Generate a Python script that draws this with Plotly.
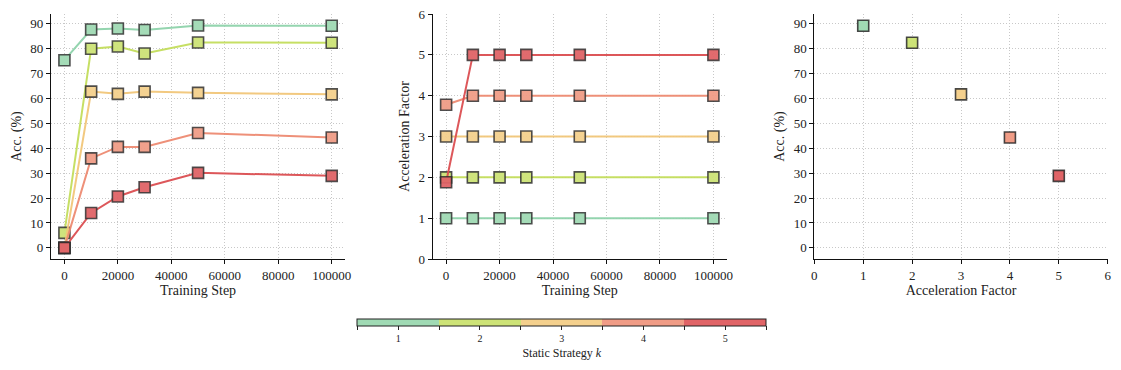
import plotly.graph_objects as go

steps = [0, 10000, 20000, 30000, 50000, 100000]
strategies = [1, 2, 3, 4, 5]

acc = {
    1: [75.3, 87.6, 88.0, 87.4, 89.2, 89.1],
    2: [6.0, 79.9, 80.8, 78.0, 82.4, 82.3],
    3: [0.0, 62.7, 61.8, 62.7, 62.2, 61.6],
    4: [0.0, 35.9, 40.5, 40.5, 46.1, 44.3],
    5: [0.0, 14.0, 20.6, 24.3, 30.1, 28.9],
}
accel = {
    1: [1, 1, 1, 1, 1, 1],
    2: [2, 2, 2, 2, 2, 2],
    3: [3, 3, 3, 3, 3, 3],
    4: [3.78, 4, 4, 4, 4, 4],
    5: [1.88, 5, 5, 5, 5, 5],
}
final_accel = [1, 2, 3, 4, 5]
final_acc = [89.1, 82.3, 61.6, 44.3, 28.9]

colors = ["#a0dab4", "#cde377", "#f4d08d", "#f09c86", "#e06467"]
line_colors = ["#8fd3ab", "#c4de5c", "#f2c77a", "#ee8b72", "#dc4f52"]

FONT = "Liberation Serif"
edge = dict(color="rgba(40,40,40,0.85)", width=1.6)

fig = go.Figure()

for i, k in enumerate(strategies):
    fig.add_trace(go.Scatter(
        x=steps, y=acc[k], mode="lines+markers",
        line=dict(color=line_colors[i], width=2),
        marker=dict(symbol="square", size=11, color=colors[i], line=edge),
        opacity=0.95, showlegend=False, xaxis="x", yaxis="y",
    ))
for i, k in enumerate(strategies):
    fig.add_trace(go.Scatter(
        x=steps, y=accel[k], mode="lines+markers",
        line=dict(color=line_colors[i], width=2),
        marker=dict(symbol="square", size=11, color=colors[i], line=edge),
        opacity=0.95, showlegend=False, xaxis="x2", yaxis="y2",
    ))

n = len(colors)
cscale = []
for i, c in enumerate(colors):
    cscale += [[i / n, c], [(i + 1) / n, c]]

fig.add_trace(go.Scatter(
    x=final_accel, y=final_acc, mode="markers",
    marker=dict(
        symbol="square", size=11, color=strategies, colorscale=cscale,
        cmin=0.5, cmax=5.5, line=edge, showscale=True,
        colorbar=dict(
            orientation="h", x=0.494, xanchor="center", y=0.16, yanchor="top",
            len=0.3646, lenmode="fraction", thickness=7, outlinewidth=1,
            outlinecolor="#222", ticks="outside", ticklen=4, tickcolor="#222",
            tickvals=[0.5, 1, 1.5, 2, 2.5, 3, 3.5, 4, 4.5, 5, 5.5],
            ticktext=["", "1", "", "2", "", "3", "", "4", "", "5", ""],
            tickfont=dict(size=10, family=FONT, color="#222"),
            title=dict(text="Static Strategy <i>k</i>", side="bottom",
                       font=dict(size=12, family=FONT, color="#222")),
            xpad=0, ypad=0,
        ),
    ),
    showlegend=False, xaxis="x3", yaxis="y3",
))

ax = dict(
    showline=True, linecolor="#111", linewidth=1.2, mirror=False,
    ticks="outside", ticklen=4, tickcolor="#111", automargin=False,
    ticklabeloverflow="allow",
    showgrid=True, gridcolor="#c8c8c8", griddash="1px,2px", gridwidth=1,
    zeroline=False, tickfont=dict(size=13, family=FONT, color="#222"),
)
tfont = dict(size=14, family=FONT, color="#222")
step_ticks = [0, 20000, 40000, 60000, 80000, 100000]
ydom = [0.3216, 0.9836]

fig.update_layout(
    width=1121, height=370,
    margin=dict(l=0, r=0, t=0, b=0, autoexpand=False),
    paper_bgcolor="white", plot_bgcolor="white",
    font=dict(family=FONT, color="#222"),
    xaxis=dict(ax, domain=[0.0384, 0.3007], range=[-5000, 105000],
               tickvals=step_ticks, tickformat="d",
               title=dict(text="Training Step", font=tfont, standoff=3)),
    yaxis=dict(ax, domain=ydom, range=[-4.47, 93.8], dtick=10,
               title=dict(text="Acc. (%)", font=tfont, standoff=5)),
    xaxis2=dict(ax, domain=[0.3789, 0.6412], range=[-5000, 105000],
                tickvals=step_ticks, tickformat="d",
                title=dict(text="Training Step", font=tfont, standoff=3)),
    yaxis2=dict(ax, domain=ydom, range=[0, 6], dtick=1,
                title=dict(text="Acceleration Factor", font=tfont, standoff=5)),
    xaxis3=dict(ax, domain=[0.7193, 0.9810], range=[0, 6], dtick=1,
                title=dict(text="Acceleration Factor", font=tfont, standoff=3)),
    yaxis3=dict(ax, domain=ydom, range=[-4.47, 93.8], dtick=10,
                title=dict(text="Acc. (%)", font=tfont, standoff=5)),
)
fig.update_layout(xaxis_anchor="y", yaxis_anchor="x", xaxis2_anchor="y2",
                  yaxis2_anchor="x2", xaxis3_anchor="y3", yaxis3_anchor="x3")

fig.write_html("out.html")
